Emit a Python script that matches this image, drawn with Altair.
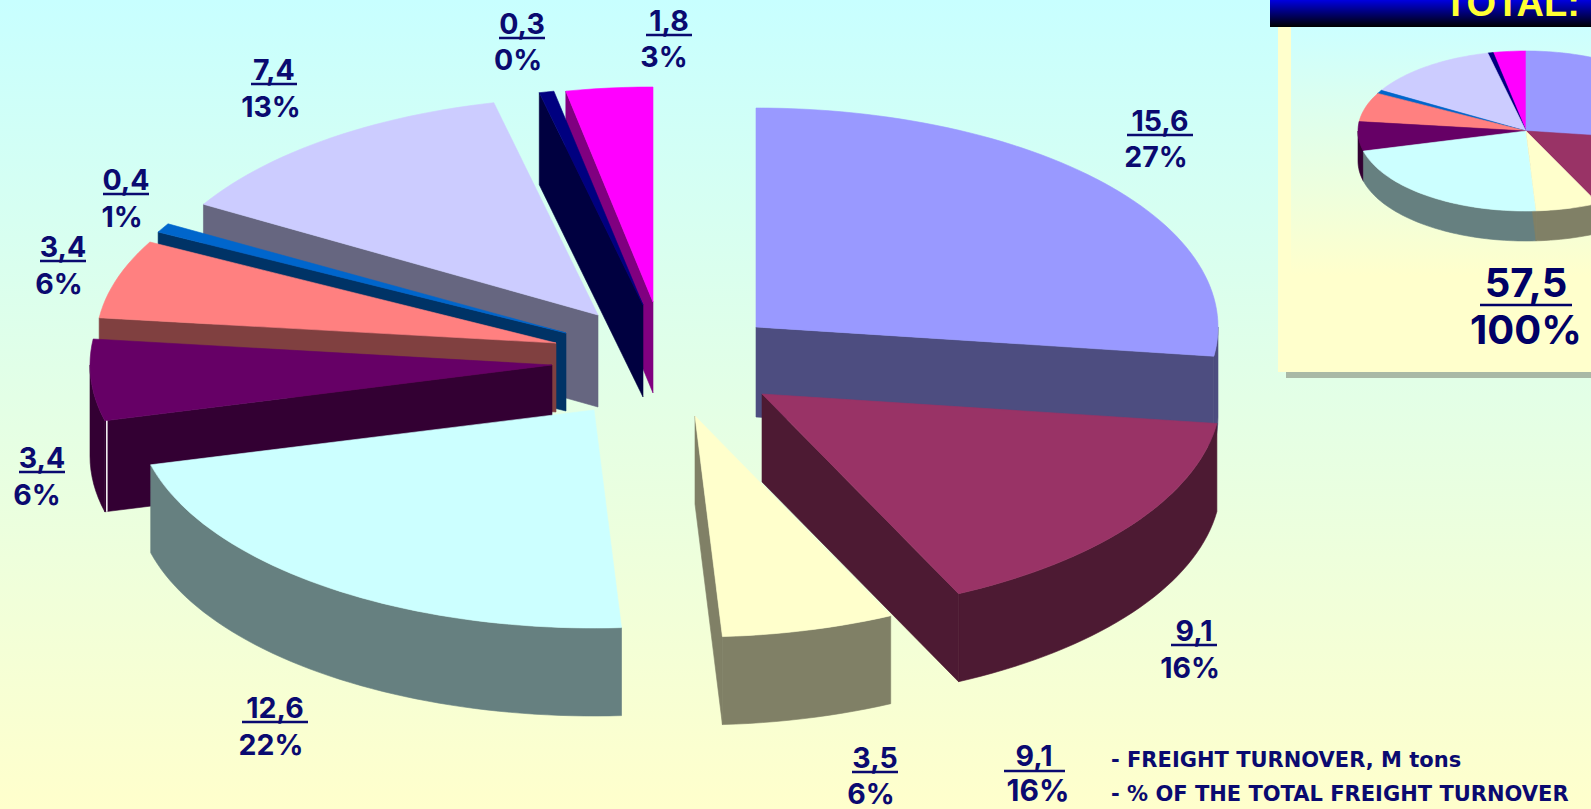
import numpy as np
import altair as alt

W, H = 1591, 809

# Freight turnover by category, M tons, clockwise from twelve o'clock
turnover = [15.6, 9.1, 3.5, 12.6, 3.4, 3.4, 0.4, 7.4, 0.3, 1.8]
share_pct = [27, 16, 6, 22, 6, 6, 1, 13, 0, 3]
total_turnover = 57.5
total_share = 100
legend_value, legend_share = 9.1, 16
legend_lines = ["- FREIGHT TURNOVER, M tons", "- % OF THE TOTAL FREIGHT TURNOVER"]
total_title = "TOTAL:"

top_colors = ["#9999FF", "#993366", "#FFFFCC", "#CCFFFF", "#660066",
              "#FF8080", "#0066CC", "#CCCCFF", "#000080", "#FF00FF"]
wall_colors = ["#4D4D80", "#4D1A33", "#808066", "#668080", "#330033",
               "#804040", "#003366", "#666680", "#000040", "#800080"]

# Exploded slice layout: centre x, centre y, x radius, y radius, thickness
exploded = [
    (756, 327, 462, 219, 90), (762, 394, 459, 221, 88), (695, 416, 457, 221, 88),
    (594, 410, 458, 218, 88), (552, 365, 462, 222, 91), (556, 343, 460, 215, 69),
    (566, 333, 462, 215, 78), (598, 315, 458, 218, 92), (643, 305, 456, 218, 92),
    (653, 302, 446, 215, 91),
]
# Where each value / share pair sits: value x, value y, share x, share y
label_layout = [
    (1160, 122, 1156, 158), (1194, 632, 1190, 669), (875, 759, 871, 795),
    (275, 709, 271, 746), (42, 459, 37, 496), (63, 248, 59, 285),
    (126, 181, 122, 218), (274, 71, 271, 108), (522, 25, 518, 61),
    (669, 22, 664, 58),
]
paint_order = [9, 8, 7, 6, 5, 4, 3, 0, 1, 2]

edges = np.cumsum([0] + turnover) / sum(turnover) * 2 * np.pi


def rim(cx, cy, a, b, t0, t1):
    n = max(3, int((t1 - t0) / np.radians(1.5)))
    t = np.linspace(t0, t1, n)
    return [[float(cx + a * np.sin(v)), float(cy - b * np.cos(v))] for v in t]


def feature(points, color):
    ring = points + [points[0]]
    return {"type": "Feature", "properties": {"c": color},
            "geometry": {"type": "Polygon", "coordinates": [ring]}}


def drop(points, d):
    return [[p[0], p[1] + d] for p in points]


def slice_faces(i, cx, cy, a, b, d):
    t0, t1 = edges[i], edges[i + 1]
    arc = rim(cx, cy, a, b, t0, t1)
    apex = [float(cx), float(cy)]
    wall = wall_colors[i]
    walls = []
    # Only faces turned towards the viewer: the front half of the rim ...
    lo, hi = max(t0, np.pi / 2), min(t1, 3 * np.pi / 2)
    if hi > lo:
        front = rim(cx, cy, a, b, lo, hi)
        walls.append(feature(front + drop(front, d)[::-1], wall))
    # ... and whichever cut faces look downwards
    if np.sin(t0) < 0:
        walls.append(feature([apex, arc[0]] + drop([arc[0], apex], d), wall))
    if np.sin(t1) > 0:
        walls.append(feature([apex, arc[-1]] + drop([arc[-1], apex], d), wall))
    return walls, feature([apex] + arc, top_colors[i])


features = []
for i in paint_order:
    walls, top = slice_faces(i, *exploded[i])
    features += walls + [top]

# Undivided small pie in the total panel
small_tops = []
for i in paint_order:
    walls, top = slice_faces(i, 1526, 131, 168, 80, 30)
    features += walls
    small_tops.append(top)
features += small_tops

geo = alt.InlineData(values={"type": "FeatureCollection", "features": features},
                     format=alt.DataFormat(property="features", type="json"))
proj = alt.Projection(type="identity", scale=1, translate=[0, 0])


def fmt(v):
    return f"{v:.1f}".replace(".", ",")


LABEL_FONT = "Inter"
NAVY = "#0A0A70"

texts, rules = [], []
for v, p, (vx, vy, px, py) in zip(turnover, share_pct, label_layout):
    s = fmt(v)
    texts.append({"t": s, "x": vx, "y": vy, "size": 28.5, "color": NAVY})
    texts.append({"t": f"{p}%", "x": px, "y": py, "size": 28.5, "color": NAVY})
    half = 23 if len(s) == 3 else 33
    rules.append({"x": vx - half, "x2": vx + half, "y": vy + 13, "y2": vy + 13, "c": NAVY, "w": 2.5})

# Legend key and total figures
texts += [
    {"t": fmt(legend_value), "x": 1034, "y": 757, "size": 28.5, "color": NAVY},
    {"t": f"{legend_share}%", "x": 1038, "y": 792, "size": 30, "color": NAVY},
    {"t": fmt(total_turnover), "x": 1526, "y": 285, "size": 40, "color": "#000066"},
    {"t": f"{total_share}%", "x": 1526, "y": 332, "size": 40, "color": "#000066"},
]
rules.append({"x": 1004, "x2": 1065, "y": 771, "y2": 771, "c": NAVY, "w": 2.5})
rules.append({"x": 1480, "x2": 1572, "y": 305, "y2": 305, "c": "#000066", "w": 2.5})

# White seam down the outer edge of the dark purple slice
seam_top = rim(*exploded[4][:4], edges[4], edges[5])[0]
rules.append({"x": seam_top[0] + 2, "x2": seam_top[0] + 2, "y": seam_top[1],
              "y2": seam_top[1] + exploded[4][4], "c": "#FFFFFF", "w": 1.5})

legend_rows = [
    {"t": legend_lines[0], "x": 1111, "y": 761},
    {"t": legend_lines[1], "x": 1111, "y": 795},
]

blank = alt.Data(values=[{"k": 0}])


def panel(x0, x1, y0, y1, stops=None, color=None):
    if stops:
        fill = alt.Gradient(gradient="linear", x1=0, x2=0, y1=0, y2=1,
                            stops=[alt.GradientStop(offset=o, color=c) for o, c in stops])
    else:
        fill = color
    return alt.Chart(blank).mark_rect(fill=fill).encode(
        x=alt.value(x0), x2=alt.value(x1), y=alt.value(y0), y2=alt.value(y1))


backdrop = panel(0, W, 0, H, stops=[(0, "#C8FFFF"), (1, "#FFFFCC")])
shadow = panel(1286, W, 372, 378, color="#A9B9A6")
cream = panel(1278, W, 27, 372, color="#FFFFCC")
glow = panel(1291, W, 27, 372, stops=[(0, "#CCFFFF"), (0.72, "#FFFFCC"), (1, "#FFFFCC")])
header = panel(1270, W, 0, 27, stops=[(0, "#0000E0"), (1, "#000000")])

shapes = alt.Chart(geo).mark_geoshape(strokeWidth=0.6).encode(
    fill=alt.Fill("properties.c:N", scale=None),
    stroke=alt.Stroke("properties.c:N", scale=None),
)

rule_layer = alt.Chart(alt.Data(values=rules)).mark_rule().encode(
    longitude="x:Q", latitude="y:Q", longitude2="x2:Q", latitude2="y2:Q",
    color=alt.Color("c:N", scale=None),
    strokeWidth=alt.StrokeWidth("w:Q", scale=None),
)

text_layer = alt.Chart(alt.Data(values=texts)).mark_text(
    font=LABEL_FONT, fontWeight="bold", baseline="middle", align="center"
).encode(
    longitude="x:Q", latitude="y:Q", text="t:N",
    size=alt.Size("size:Q", scale=None),
    color=alt.Color("color:N", scale=None),
)

legend_layer = alt.Chart(alt.Data(values=legend_rows)).mark_text(
    font="DejaVu Sans", fontWeight="bold", fontSize=21, baseline="middle",
    align="left", color=NAVY
).encode(longitude="x:Q", latitude="y:Q", text="t:N")

title_layer = alt.Chart(alt.Data(values=[{"t": total_title, "x": 1444, "y": 16}])).mark_text(
    font="Liberation Sans", fontWeight="bold", fontSize=38, baseline="alphabetic",
    align="left", color="#FFFF33"
).encode(longitude="x:Q", latitude="y:Q", text="t:N")

chart = alt.layer(
    backdrop, shadow, cream, glow, header, title_layer,
    shapes, rule_layer, text_layer, legend_layer,
).properties(
    width=W, height=H, padding=0,
    autosize=alt.AutoSizeParams(type="none"),
    projection=proj,
).configure_view(stroke=None)

chart.save("out.html", embed_options={"renderer": "svg", "actions": False})
